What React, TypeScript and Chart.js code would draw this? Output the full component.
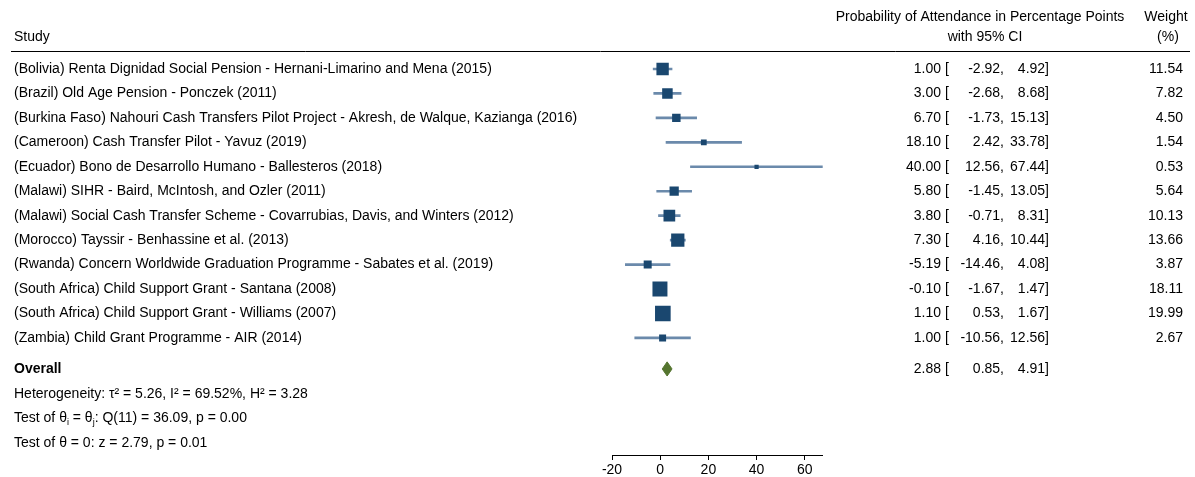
import React, { useEffect, useRef } from "react";
import { Chart, registerables } from "chart.js";

Chart.register(...registerables);

// ---------------- data ----------------
const studies = [
  "(Bolivia) Renta Dignidad Social Pension - Hernani-Limarino and Mena (2015)",
  "(Brazil) Old Age Pension - Ponczek (2011)",
  "(Burkina Faso) Nahouri Cash Transfers Pilot Project - Akresh, de Walque, Kazianga (2016)",
  "(Cameroon) Cash Transfer Pilot - Yavuz (2019)",
  "(Ecuador) Bono de Desarrollo Humano - Ballesteros (2018)",
  "(Malawi) SIHR - Baird, McIntosh, and Ozler (2011)",
  "(Malawi) Social Cash Transfer Scheme - Covarrubias, Davis, and Winters (2012)",
  "(Morocco) Tayssir - Benhassine et al. (2013)",
  "(Rwanda) Concern Worldwide Graduation Programme - Sabates et al. (2019)",
  "(South Africa) Child Support Grant - Santana (2008)",
  "(South Africa) Child Support Grant - Williams (2007)",
  "(Zambia) Child Grant Programme - AIR (2014)",
];
const estimates = [1.0, 3.0, 6.7, 18.1, 40.0, 5.8, 3.8, 7.3, -5.19, -0.1, 1.1, 1.0];
const lowerCI = [-2.92, -2.68, -1.73, 2.42, 12.56, -1.45, -0.71, 4.16, -14.46, -1.67, 0.53, -10.56];
const upperCI = [4.92, 8.68, 15.13, 33.78, 67.44, 13.05, 8.31, 10.44, 4.08, 1.47, 1.67, 12.56];
const weights = [11.54, 7.82, 4.5, 1.54, 0.53, 5.64, 10.13, 13.66, 3.87, 18.11, 19.99, 2.67];

const overallLabel = "Overall";
const overallEstimate = 2.88;
const overallLower = 0.85;
const overallUpper = 4.91;

const xTicks = [-20, 0, 20, 40, 60];

const headerStudy = "Study";
const headerEffect = ["Probability of Attendance in Percentage Points", "with 95% CI"];
const headerWeight = ["Weight", "(%)"];

const heterogeneityText = "Heterogeneity: \u03c4\u00b2 = 5.26, I\u00b2 = 69.52%, H\u00b2 = 3.28";
const homogeneityTest = [
  { t: "Test of \u03b8" },
  { t: "i", sub: true },
  { t: " = \u03b8" },
  { t: "j", sub: true },
  { t: ": Q(11) = 36.09, p = 0.00" },
];
const effectTestText = "Test of \u03b8 = 0: z = 2.79, p = 0.01";

// ---------------- layout / style ----------------
const W = 1195;
const H = 477;
const FONT = '"Liberation Sans", Arial, Helvetica, sans-serif';
const FONT_SIZE = 14;
const NAVY = "#1a476f";
const CI_COLOR = "#6b8aab";
const GREEN = "#55752f";
const ROW_OVERALL = 12.27;
const ROW_NOTES = [13.3, 14.3, 15.32];
const Y_MIN = -0.736;
const Y_MAX = 15.79;
const DIAMOND_HALF = 0.29;
const SQUARE_MIN = 2;
const SQUARE_K = 3.05;

const textPlugin = {
  id: "forestText",
  afterDraw(chart: any) {
    const ctx = chart.ctx as CanvasRenderingContext2D;
    const y = chart.scales.y;
    const top = chart.chartArea.top;
    ctx.save();
    ctx.fillStyle = "#000";
    ctx.textBaseline = "middle";
    const f = `${FONT_SIZE}px ${FONT}`;
    ctx.font = f;

    // header
    ctx.textAlign = "left";
    ctx.fillText(headerStudy, 14, top - 14);
    ctx.textAlign = "center";
    ctx.fillText(headerEffect[0], 980, top - 34);
    ctx.fillText(headerEffect[1], 985, top - 14);
    ctx.fillText(headerWeight[0], 1166, top - 34);
    ctx.fillText(headerWeight[1], 1168, top - 14);

    ctx.strokeStyle = "#000";
    ctx.lineWidth = 1;
    ctx.beginPath();
    ctx.moveTo(11, Math.round(top) + 0.5);
    ctx.lineTo(1190, Math.round(top) + 0.5);
    ctx.stroke();

    const drawCI = (py: number, est: number, lo: number, hi: number) => {
      ctx.textAlign = "right";
      ctx.fillText(est.toFixed(2), 941, py);
      ctx.textAlign = "left";
      ctx.fillText("[", 945, py);
      ctx.textAlign = "right";
      ctx.fillText(lo.toFixed(2) + ",", 1004, py);
      ctx.fillText(hi.toFixed(2) + "]", 1049, py);
    };

    studies.forEach((s, i) => {
      const py = y.getPixelForValue(i);
      ctx.textAlign = "left";
      ctx.fillText(s, 14, py);
      drawCI(py, estimates[i], lowerCI[i], upperCI[i]);
      ctx.textAlign = "right";
      ctx.fillText(weights[i].toFixed(2), 1183, py);
    });

    const po = y.getPixelForValue(ROW_OVERALL);
    ctx.textAlign = "left";
    ctx.font = `bold ${FONT_SIZE}px ${FONT}`;
    ctx.fillText(overallLabel, 14, po);
    ctx.font = f;
    drawCI(po, overallEstimate, overallLower, overallUpper);

    ctx.textAlign = "left";
    ctx.fillText(heterogeneityText, 14, y.getPixelForValue(ROW_NOTES[0]));
    let x = 14;
    const p2 = y.getPixelForValue(ROW_NOTES[1]);
    homogeneityTest.forEach((seg: any) => {
      if (seg.sub) {
        ctx.font = `${FONT_SIZE - 5}px ${FONT}`;
        ctx.fillText(seg.t, x, p2 + 4);
      } else {
        ctx.font = f;
        ctx.fillText(seg.t, x, p2);
      }
      x += ctx.measureText(seg.t).width;
    });
    ctx.font = f;
    ctx.fillText(effectTestText, 14, y.getPixelForValue(ROW_NOTES[2]));
    ctx.restore();
  },
};

export default function App() {
  const ref = useRef<HTMLCanvasElement | null>(null);

  useEffect(() => {
    if (!ref.current) return;
    const xMax = Math.max(...upperCI);
    const chart = new Chart(ref.current, {
      type: "scatter",
      data: {
        datasets: [
          {
            type: "scatter",
            order: 0,
            data: estimates.map((e, i) => ({ x: e, y: i })),
            pointStyle: "rect",
            pointRadius: weights.map((w) => (SQUARE_MIN + SQUARE_K * Math.sqrt(w)) / Math.SQRT2),
            pointBackgroundColor: NAVY,
            pointBorderWidth: 0,
            pointBorderColor: NAVY,
          } as any,
          {
            type: "bar",
            order: 1,
            indexAxis: "y",
            data: studies.map((_, i) => ({ x: [lowerCI[i], upperCI[i]], y: i })),
            backgroundColor: CI_COLOR,
            barThickness: 2,
            borderWidth: 0,
          } as any,
          {
            type: "line",
            order: 2,
            data: [
              { x: overallLower, y: ROW_OVERALL },
              { x: overallEstimate, y: ROW_OVERALL - DIAMOND_HALF },
              { x: overallUpper, y: ROW_OVERALL },
              { x: overallEstimate, y: ROW_OVERALL + DIAMOND_HALF },
              { x: overallLower, y: ROW_OVERALL },
            ],
            showLine: true,
            fill: "shape",
            backgroundColor: GREEN,
            borderColor: GREEN,
            borderWidth: 1,
            pointRadius: 0,
            tension: 0,
          } as any,
        ],
      },
      options: {
        animation: false,
        responsive: false,
        devicePixelRatio: 1,
        events: [],
        layout: { padding: { left: 612, right: W - 822.7, top: 51, bottom: 0 } },
        plugins: { legend: { display: false }, tooltip: { enabled: false } },
        scales: {
          x: {
            type: "linear",
            position: "bottom",
            offset: false,
            min: -20,
            max: xMax,
            afterBuildTicks: (s: any) => {
              s.ticks = xTicks.map((v) => ({ value: v }));
            },
            afterFit: (s: any) => {
              s.height = 22;
            },
            grid: {
              display: true,
              offset: false,
              drawOnChartArea: false,
              drawTicks: true,
              tickLength: 5,
              color: "#000",
            },
            border: { display: true, color: "#000", width: 1 },
            ticks: {
              color: "#000",
              padding: 2,
              font: { family: FONT, size: FONT_SIZE },
              callback: (v: any) => String(v),
            },
          },
          y: {
            type: "linear",
            display: false,
            offset: false,
            grid: { offset: false },
            min: Y_MIN,
            max: Y_MAX,
            reverse: true,
          },
        },
      } as any,
      plugins: [textPlugin],
    });
    return () => chart.destroy();
  }, []);

  return (
    <div style={{ position: "fixed", left: 0, top: 0, width: W, height: H, background: "#fff" }}>
      <canvas ref={ref} width={W} height={H} style={{ display: "block" }} />
    </div>
  );
}
